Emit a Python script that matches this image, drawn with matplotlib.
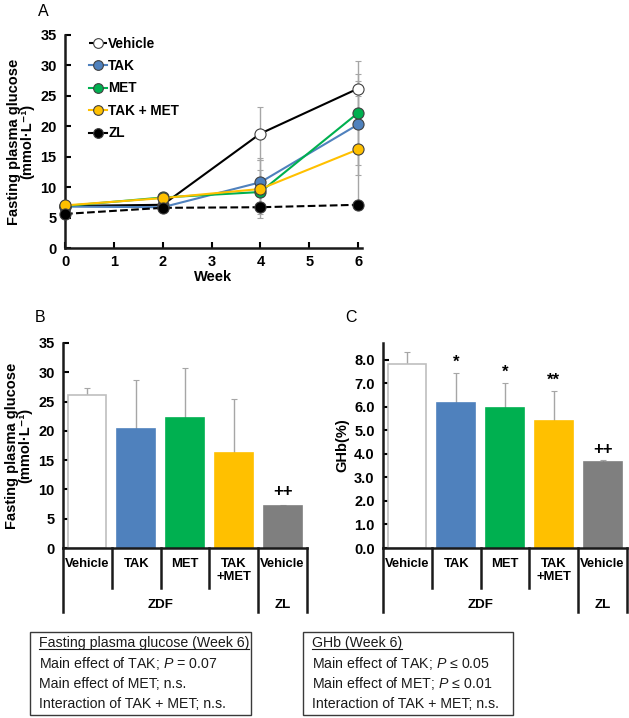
import numpy as np
import matplotlib
matplotlib.use("Agg")
import matplotlib.pyplot as plt
from matplotlib.patches import Rectangle
from matplotlib.lines import Line2D
import matplotlib.transforms as mtransforms

plt.rcParams["font.family"] = ["Liberation Sans", "DejaVu Sans"]
plt.rcParams["mathtext.fontset"] = "custom"
plt.rcParams["mathtext.rm"] = "Liberation Sans"
plt.rcParams["mathtext.it"] = "Liberation Sans:italic"

# ---- data ----
weeks = [0, 2, 4, 6]
series_names = ["Vehicle", "TAK", "MET", "TAK + MET", "ZL"]
glucose_vehicle = [6.9, 7.1, 18.8, 26.2]
glucose_tak = [6.8, 6.7, 10.8, 20.3]
glucose_met = [6.9, 8.3, 9.2, 22.2]
glucose_takmet = [7.0, 8.2, 9.7, 16.2]
glucose_zl = [5.6, 6.6, 6.7, 7.1]
sd_vehicle = [0, 0, 4.4, 1.2]
sd_tak = [0, 0, 4.0, 8.3]
sd_met = [0, 0, 3.6, 8.6]
sd_takmet = [0, 0, 4.7, 9.2]
sd_zl = [0, 0, 0.3, 0.3]

groups = ["Vehicle", "TAK", "MET", "TAK\n+MET", "Vehicle"]
week6_glucose = [26.2, 20.3, 22.2, 16.2, 7.1]
week6_glucose_sd = [1.2, 8.3, 8.6, 9.2, 0.3]
ghb = [7.82, 6.18, 5.95, 5.42, 3.65]
ghb_sd = [0.5, 1.27, 1.07, 1.26, 0.1]
ghb_marks = ["", "*", "*", "**", "++"]
glucose_marks = ["", "", "", "", "++"]

colors = ["white", "#4F81BD", "#00B050", "#FFC000", "black"]
bar_colors = ["white", "#4F81BD", "#00B050", "#FFC000", "#7F7F7F"]
bar_edges = ["#BFBFBF", "#4F81BD", "#00B050", "#FFC000", "#7F7F7F"]

W, H = 629, 718
fig = plt.figure(figsize=(W / 100, H / 100), dpi=100)

TICK_SIZE = 10.5
LABEL_SIZE = 10.5


def px_axes(left, top, right, bottom):
    return fig.add_axes([left / W, 1 - bottom / H, (right - left) / W, (bottom - top) / H])


def style_axes(ax):
    for s in ["top", "right"]:
        ax.spines[s].set_visible(False)
    for s in ["left", "bottom"]:
        ax.spines[s].set_linewidth(1.8)
        ax.spines[s].set_color("#1a1a1a")
    ax.tick_params(direction="in", width=1.5, length=4, labelsize=TICK_SIZE)
    ax.tick_params(axis="x", pad=5)
    ax.tick_params(axis="y", pad=6)
    for lab in ax.get_yticklabels() + ax.get_xticklabels():
        lab.set_fontweight("bold")


# ---- panel A ----
axA = px_axes(65, 35, 362, 248)
series = [glucose_vehicle, glucose_tak, glucose_met, glucose_takmet, glucose_zl]
sds = [sd_vehicle, sd_tak, sd_met, sd_takmet, sd_zl]
line_cols = ["black", "#4F81BD", "#00B050", "#FFC000", "black"]
for vals, sd in zip(series, sds):
    axA.errorbar(weeks, vals, yerr=sd, fmt="none", ecolor="#A6A6A6",
                 elinewidth=1, capsize=2, capthick=0.8, zorder=1)
handles = []
for name, vals, lc, fc in zip(series_names, series, line_cols, colors):
    ls = "--" if name == "ZL" else "-"
    h, = axA.plot(weeks, vals, ls=ls, color=lc, lw=1.5, marker="o", ms=8,
                  mfc=fc, mec="#404040", mew=0.8, label=name, zorder=3,
                  clip_on=False)
    handles.append(h)
axA.set_xlim(0, 6.08)
axA.set_ylim(0, 35)
axA.set_yticks(range(0, 36, 5))
axA.set_xticks(range(0, 7))
style_axes(axA)
axA.set_xlabel("Week", fontsize=LABEL_SIZE, fontweight="bold", labelpad=1)
axA.set_ylabel("Fasting plasma glucose\n(mmol·L⁻¹)", fontsize=LABEL_SIZE,
               fontweight="bold", labelpad=4, linespacing=1.0)
leg_handles = [Line2D([0], [0], color=h.get_color(), ls="--" if i == 0 else "-",
                      lw=1.5, marker="o", ms=7, mfc=h.get_markerfacecolor(),
                      mec="#404040", mew=0.8) for i, h in enumerate(handles)]
leg = axA.legend(leg_handles, series_names, loc="upper left",
                 bbox_to_anchor=(0.04, 1.05), frameon=False, handlelength=1.3,
                 handletextpad=0.1, labelspacing=0.62,
                 prop=dict(size=9.8, weight="bold"))
fig.text(38 / W, 1 - 12 / H, "A", fontsize=11.5, va="center", ha="left")


# ---- panels B and C ----
def bar_panel(ax, vals, sd, marks, ylim, yticks, fmt, mark_pad):
    x = np.arange(len(vals))
    ax.bar(x, vals, width=0.78, color=bar_colors, edgecolor=bar_edges, lw=1.2,
           zorder=2)
    ax.errorbar(x, vals, yerr=[np.zeros(len(sd)), sd], fmt="none",
                ecolor="#A6A6A6", elinewidth=1, capsize=2, capthick=0.8,
                zorder=1)
    for xi, v, s, m in zip(x, vals, sd, marks):
        if m:
            ax.text(xi, v + s + mark_pad, m, ha="center", va="bottom",
                    fontsize=12, fontweight="bold")
    ax.set_xlim(-0.5, 4.5)
    ax.set_ylim(*ylim)
    ax.set_yticks(yticks)
    ax.set_yticklabels([fmt.format(t) for t in yticks])
    ax.set_xticks([])
    style_axes(ax)
    trans = mtransforms.blended_transform_factory(ax.transData, ax.transAxes)
    for xs in [0.5, 1.5, 2.5]:
        ax.add_line(Line2D([xs, xs], [0, -0.195], transform=trans,
                           color="#1a1a1a", lw=1.8, clip_on=False))
    for xs in [-0.5, 3.5, 4.5]:
        ax.add_line(Line2D([xs, xs], [0, -0.312], transform=trans,
                           color="#1a1a1a", lw=1.8, clip_on=False))
    for xi, g in zip(x, groups):
        ax.text(xi, -0.05, g, transform=trans, ha="center", va="top",
                fontsize=9.4, fontweight="bold", linespacing=1.1)
    ax.text(1.5, -0.28, "ZDF", transform=trans, ha="center", va="center",
            fontsize=9.6, fontweight="bold")
    ax.text(4.0, -0.28, "ZL", transform=trans, ha="center", va="center",
            fontsize=9.6, fontweight="bold")


axB = px_axes(63, 343, 307, 548)
bar_panel(axB, week6_glucose, week6_glucose_sd, glucose_marks, (0, 35),
          list(range(0, 36, 5)), "{:d}", 1.0)
axB.set_ylabel("Fasting plasma glucose\n(mmol·L⁻¹)", fontsize=LABEL_SIZE,
               fontweight="bold", labelpad=4, linespacing=1.0)
fig.text(35 / W, 1 - 318 / H, "B", fontsize=11.5, va="center", ha="left")

axC = px_axes(383, 343, 627, 548)
bar_panel(axC, ghb, ghb_sd, ghb_marks, (0, 8.72),
          [float(v) for v in range(0, 9)], "{:.1f}", 0.12)
axC.set_ylabel("GHb(%)", fontsize=LABEL_SIZE, fontweight="bold", labelpad=3)
fig.text(345 / W, 1 - 318 / H, "C", fontsize=11.5, va="center", ha="left")

# ---- statistics boxes ----
box_lines_glucose = ["Fasting plasma glucose (Week 6)",
                     "Main effect of TAK; $\\it{P}$ = 0.07",
                     "Main effect of MET; n.s.",
                     "Interaction of TAK + MET; n.s."]
box_lines_ghb = ["GHb (Week 6)",
                 "Main effect of TAK; $\\it{P}$ ≤ 0.05",
                 "Main effect of MET; $\\it{P}$ ≤ 0.01",
                 "Interaction of TAK + MET; n.s."]

titles = []
for (x0, x1), lines in [((30, 251), box_lines_glucose), ((303, 513), box_lines_ghb)]:
    fig.add_artist(Rectangle((x0 / W, 1 - 715 / H), (x1 - x0) / W, 83 / H,
                             transform=fig.transFigure, fill=False,
                             edgecolor="#3a3a3a", lw=1.0))
    for i, t in enumerate(lines):
        txt = fig.text((x0 + 9) / W, 1 - (643 + 20.5 * i) / H, t,
                       fontsize=10.2, va="center", ha="left", color="#1a1a1a")
        if i == 0:
            titles.append(txt)

fig.canvas.draw()
renderer = fig.canvas.get_renderer()
for txt in titles:
    bb = txt.get_window_extent(renderer).transformed(fig.transFigure.inverted())
    fig.add_artist(Line2D([bb.x0, bb.x1], [bb.y0 + 0.001, bb.y0 + 0.001],
                          transform=fig.transFigure, color="#1a1a1a", lw=0.8))

fig.savefig("out.png", dpi=100)
